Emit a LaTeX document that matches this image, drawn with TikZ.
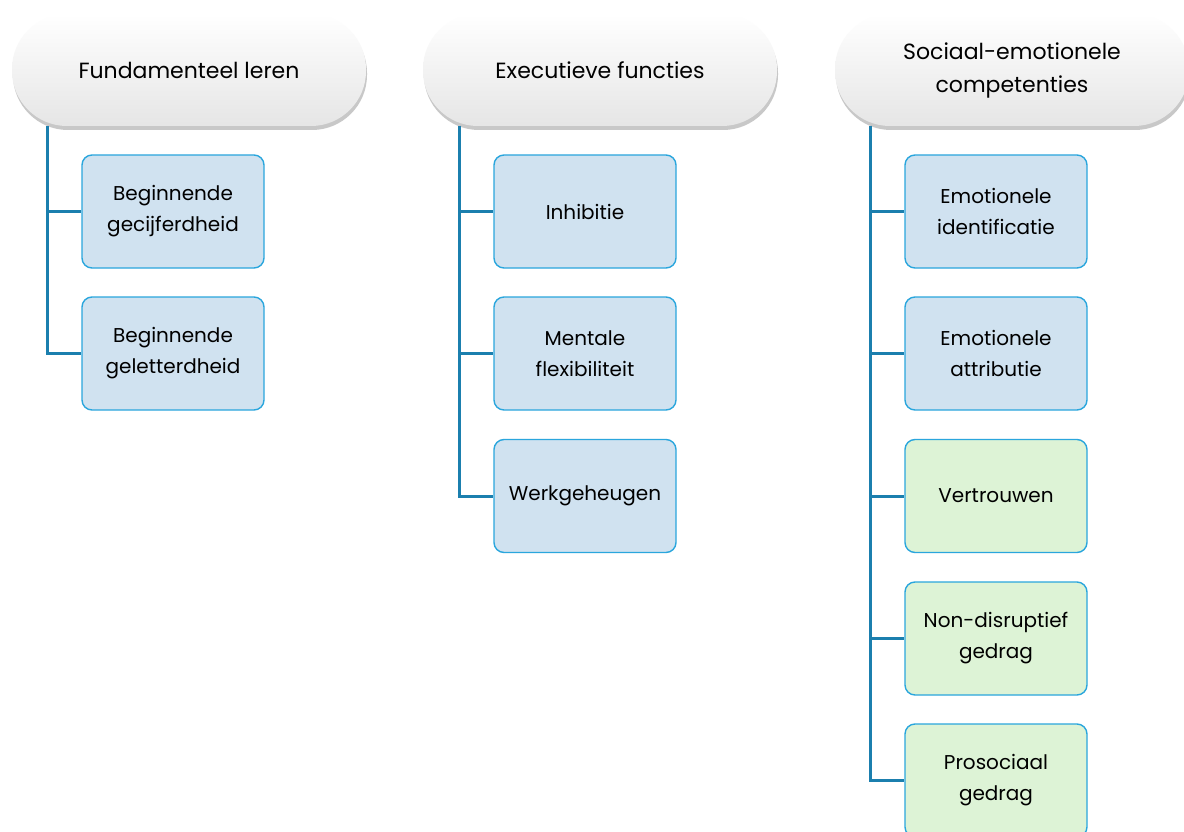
\documentclass[tikz,border=0pt]{standalone}
\usepackage{fontspec}
\setmainfont{Poppins}
\usetikzlibrary{shadows}
\definecolor{spineblue}{HTML}{1B7FAE}
\definecolor{boxedge}{HTML}{2AA6DD}
\definecolor{boxblue}{HTML}{D0E2F0}
\definecolor{boxgreen}{HTML}{DDF3D6}
\begin{document}
\begin{tikzpicture}[x=1pt,y=-1pt,
  hdr/.style={rectangle, rounded corners=55pt, minimum width=354pt, minimum height=112pt,
    top color=white, bottom color=black!10, align=center, inner sep=0pt,
    font=\fontsize{22}{33}\selectfont,
    drop shadow={shadow xshift=1pt, shadow yshift=-4pt, opacity=0.3, fill=black!70}},
  item/.style={rectangle, rounded corners=10pt, draw=boxedge, line width=1.4pt,
    minimum width=182pt, minimum height=113pt, align=center, inner sep=0pt,
    font=\fontsize{20}{31}\selectfont},
  itemb/.style={item, fill=boxblue},
  itemg/.style={item, fill=boxgreen},
  tak/.style={draw=spineblue, line width=3pt}]
  \clip (0,0) rectangle (1184,832);
  \fill[white] (0,0) rectangle (1184,832);
  % headers
  \node[hdr] (hdr1) at (189,70) {Fundamenteel leren};
  \node[hdr] (hdr2) at (600,70) {Executieve functies};
  \node[hdr] (hdr3) at (1012,70) {Sociaal-emotionele\\competenties};
  % spine start points
  \coordinate (s1) at (47,126);
  \coordinate (s2) at (459,126);
  \coordinate (s3) at (870,126);
  % column 1
  \node[itemb] (b11) at (173,211.5) {Beginnende\\gecijferdheid};
  \node[itemb] (b12) at (173,353.5) {Beginnende\\geletterdheid};
  % column 2
  \node[itemb] (b21) at (585,211.5) {Inhibitie};
  \node[itemb] (b22) at (585,353.5) {Mentale\\flexibiliteit};
  \node[itemb] (b23) at (585,496) {Werkgeheugen};
  % column 3
  \node[itemb] (b31) at (996,211.5) {Emotionele\\identificatie};
  \node[itemb] (b32) at (996,353.5) {Emotionele\\attributie};
  \node[itemg] (b33) at (996,496) {Vertrouwen};
  \node[itemg] (b34) at (996,638.5) {Non-disruptief\\gedrag};
  \node[itemg] (b35) at (996,780.5) {Prosociaal\\gedrag};
  % connectors
  \foreach \b in {b11,b12} \draw[tak] (s1) |- (\b.west);
  \foreach \b in {b21,b22,b23} \draw[tak] (s2) |- (\b.west);
  \foreach \b in {b31,b32,b33,b34,b35} \draw[tak] (s3) |- (\b.west);
\end{tikzpicture}
\end{document}
